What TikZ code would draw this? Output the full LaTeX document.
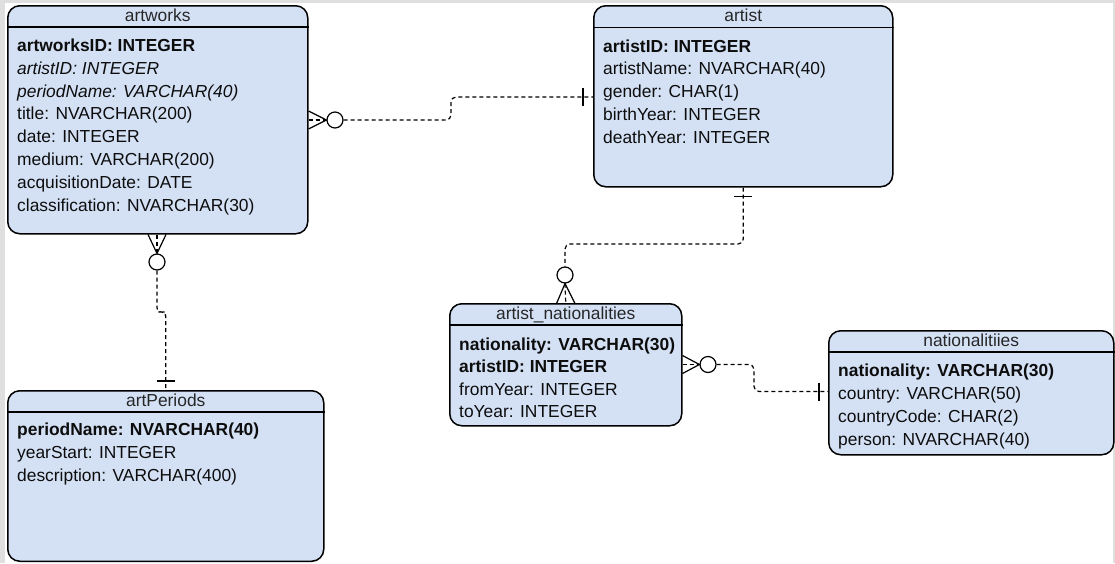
\documentclass[tikz,border=0pt]{standalone}
\usepackage{fontspec}
\setmainfont{Liberation Sans}
\usetikzlibrary{positioning}
\definecolor{tblblue}{HTML}{D4E1F5}
\newcommand{\tblfont}{\fontsize{17.4}{20}\selectfont}

\begin{document}
\begin{tikzpicture}
[x=1pt,y=-1pt,
 tbl/.style={draw=black,line width=1.5pt,fill=tblblue,rounded corners=12pt,anchor=north west,inner sep=0pt},
 hdr/.style={line width=1.2pt},
 ttl/.style={anchor=base,inner sep=0pt,font=\tblfont,text=black!85},
 row/.style={anchor=base west,inner sep=0pt,font=\tblfont,text=black!95},
 ring/.style={circle,draw=black,fill=white,line width=1.2pt,minimum size=16pt,inner sep=0pt},
 foot/.style={line width=1.2pt},
 conn/.style={line width=1.2pt,dash pattern=on 4pt off 3pt,rounded corners=5pt}]
\useasboundingbox (0,0) rectangle (1115,563);
\fill[gray!25] (0,0) rectangle (1115,563);
\fill[white] (5,3) rectangle (1112.5,563);

% tables
\node[tbl,minimum width=300pt,minimum height=228pt] (artworks) at (7,5) {};
\draw[hdr] (artworks.west |- 0,27) -- (artworks.east |- 0,27);
\node[ttl] (artworks-t) at (artworks.north |- 0,21.5) {artworks};
\foreach \txt [count=\i from 0] in {{\bfseries artworksID: INTEGER},{\itshape artistID: INTEGER},
  {\itshape periodName: VARCHAR(40)},title: NVARCHAR(200),date: INTEGER,medium: VARCHAR(200),
  acquisitionDate: DATE,classification: NVARCHAR(30)}
  \node[row] (artworks-\i) at (17,{51.5+22.8*\i}) {\txt};

\node[tbl,minimum width=299pt,minimum height=181pt] (artist) at (593,5) {};
\draw[hdr] (artist.west |- 0,27.5) -- (artist.east |- 0,27.5);
\node[ttl] (artist-t) at (artist.north |- 0,21.5) {artist};
\foreach \txt [count=\i from 0] in {{\bfseries artistID: INTEGER},artistName: NVARCHAR(40),
  gender: CHAR(1),birthYear: INTEGER,deathYear: INTEGER}
  \node[row] (artist-\i) at (603,{52+22.8*\i}) {\txt};

\node[tbl,minimum width=232pt,minimum height=122pt] (artnat) at (449,303) {};
\draw[hdr] (artnat.west |- 0,325) -- (artnat.east |- 0,325);
\node[ttl] (artnat-t) at (artnat.north |- 0,319.5) {artist\_nationalities};
\foreach \txt [count=\i from 0] in {{\bfseries nationality: VARCHAR(30)},{\bfseries artistID: INTEGER},
  fromYear: INTEGER,toYear: INTEGER}
  \node[row] (artnat-\i) at (459,{350+22.5*\i}) {\txt};

\node[tbl,minimum width=285pt,minimum height=124pt] (nations) at (828,330) {};
\draw[hdr] (nations.west |- 0,352) -- (nations.east |- 0,352);
\node[ttl] (nations-t) at (nations.north |- 0,346.5) {nationalitiies};
\foreach \txt [count=\i from 0] in {{\bfseries nationality: VARCHAR(30)},country: VARCHAR(50),
  countryCode: CHAR(2),person: NVARCHAR(40)}
  \node[row] (nations-\i) at (838,{376+23*\i}) {\txt};

\node[tbl,minimum width=316pt,minimum height=170.5pt] (artperiods) at (7,390) {};
\draw[hdr] (artperiods.west |- 0,412) -- (artperiods.east |- 0,412);
\node[ttl] (artperiods-t) at (artperiods.north |- 0,406.5) {artPeriods};
\foreach \txt [count=\i from 0] in {{\bfseries periodName: NVARCHAR(40)},yearStart: INTEGER,
  description: VARCHAR(400)}
  \node[row] (artperiods-\i) at (17,{435+23.2*\i}) {\txt};

% artworks -- artist
\node[ring] (ringA) at (335,120) {};
\coordinate (footA) at (artworks.east |- ringA);
\coordinate (artistIn) at (artist.west |- 0,97);
\draw[conn] (footA) -- (ringA.west);
\draw[foot] ([yshift=9pt]footA) -- (ringA.west) -- ([yshift=-9pt]footA);
\draw[conn] (ringA.east) -| (451,108) |- (artistIn);
\draw[foot] ([xshift=-10pt,yshift=9pt]artistIn) -- ([xshift=-10pt,yshift=-9pt]artistIn);

% artworks -- artPeriods
\node[ring] (ringB) at (157,262) {};
\coordinate (footB) at (ringB |- artworks.south);
\draw[conn] (footB) -- (ringB.north);
\draw[foot] ([xshift=-9pt]footB) -- (ringB.north) -- ([xshift=9pt]footB);
\draw[conn,rounded corners=4pt] (ringB.south) |- (161,312) -| (artperiods.north);
\draw[foot] ([xshift=-9pt,yshift=9pt]artperiods.north) -- ([xshift=9pt,yshift=9pt]artperiods.north);

% artist -- artist_nationalities
\node[ring] (ringC) at (565,275) {};
\draw[foot] ([xshift=-9pt,yshift=-9pt]artist.south) -- ([xshift=9pt,yshift=-9pt]artist.south);
\draw[conn] (artist.south) |- (650,244) -| (ringC.north);
\draw[conn] (ringC.south) -- (artnat.north);
\draw[foot] ([xshift=-9pt]artnat.north) -- (ringC.south) -- ([xshift=9pt]artnat.north);

% artist_nationalities -- nationalitiies
\node[ring] (ringD) at (708,364.5) {};
\coordinate (footD) at (artnat.east |- ringD);
\coordinate (nationsIn) at (nations.west |- 0,391.5);
\draw[conn] (footD) -- (ringD.west);
\draw[foot] ([yshift=9pt]footD) -- (ringD.west) -- ([yshift=-9pt]footD);
\draw[conn] (ringD.east) -| (754,378) |- (nationsIn);
\draw[foot] ([xshift=-9pt,yshift=9pt]nationsIn) -- ([xshift=-9pt,yshift=-9pt]nationsIn);
\end{tikzpicture}
\end{document}
